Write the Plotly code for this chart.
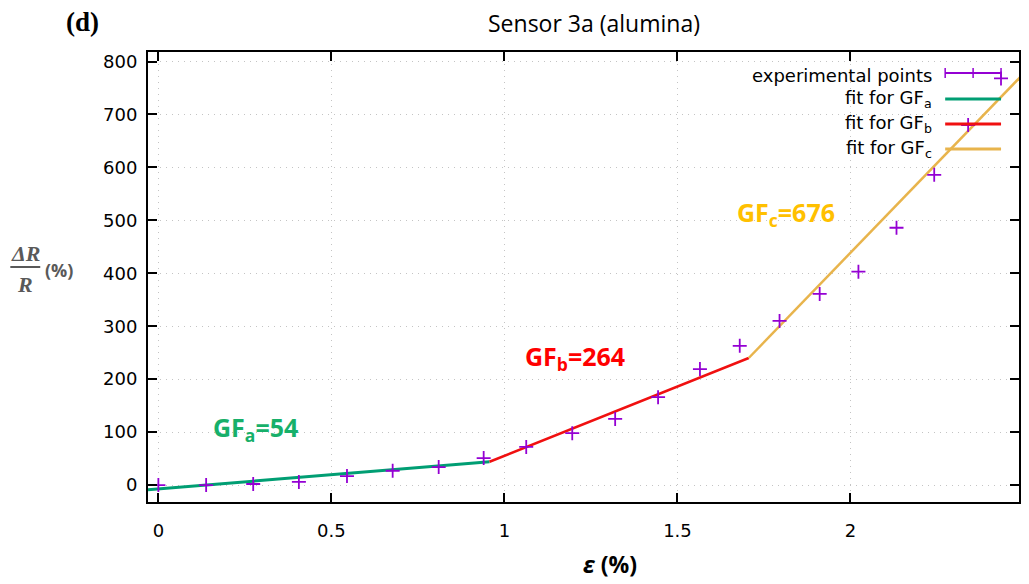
import plotly.graph_objects as go

# ---- data ----
strain = [0, 0.138, 0.274, 0.406, 0.545, 0.677, 0.81, 0.94, 1.063, 1.196, 1.32,
          1.444, 1.565, 1.68, 1.795, 1.911, 2.023, 2.133, 2.242, 2.34, 2.435]
dr_r = [0, 0, 2, 6, 17, 27, 34, 51, 72, 98, 125, 166, 219, 263, 310, 361, 403,
        486, 586, 680, 768]

fit_a_x = [-0.03, 0.957]
fit_a_y = [-9, 44]
fit_b_x = [0.957, 1.706]
fit_b_y = [44, 240]
fit_c_x = [1.706, 2.5]
fit_c_y = [240, 777]

x_ticks = [0, 0.5, 1, 1.5, 2]
x_tick_labels = ["0", "0.5", "1", "1.5", "2"]
y_ticks = [0, 100, 200, 300, 400, 500, 600, 700, 800]

legend_labels = ["experimental points", "fit for GF<sub>a</sub>",
                 "fit for GF<sub>b</sub>", "fit for GF<sub>c</sub>"]

PURPLE = "#9400d3"
GREEN = "#009e73"
RED = "#f01010"
GOLD = "#e8b44c"

fig = go.Figure()
fig.add_trace(go.Scatter(x=fit_a_x, y=fit_a_y, mode="lines",
                         line=dict(color=GREEN, width=3), showlegend=False))
fig.add_trace(go.Scatter(x=fit_b_x, y=fit_b_y, mode="lines",
                         line=dict(color=RED, width=2.5), showlegend=False))
fig.add_trace(go.Scatter(x=fit_c_x, y=fit_c_y, mode="lines",
                         line=dict(color=GOLD, width=2.5), showlegend=False))
fig.add_trace(go.Scatter(x=strain, y=dr_r, mode="markers",
                         marker=dict(symbol="cross-thin", size=10,
                                     line=dict(width=1.8, color=PURPLE)),
                         showlegend=False))

axis_common = dict(showline=True, linecolor="black", linewidth=2, mirror="ticks",
                   ticks="inside", ticklen=9, tickwidth=2, tickcolor="black",
                   showgrid=True, gridcolor="#c4c4c4", griddash="1px,5px", gridwidth=1.2,
                   zeroline=False,
                   tickfont=dict(family="DejaVu Sans", size=18, color="black"))

fig.update_xaxes(range=[-0.03, 2.487], tickvals=x_ticks, ticktext=x_tick_labels,
                 ticklabelstandoff=11, **axis_common)
fig.update_yaxes(range=[-32, 818], tickvals=y_ticks, ticklabelstandoff=5,
                 **axis_common)

W, H = 1029, 584
L, R, T, B = 148, 1021, 52, 502


def px(xp):
    return (xp - L) / (R - L)


def py(yp):
    return (B - yp) / (B - T)


ann = []
# title
ann.append(dict(text="Sensor 3a (alumina)", x=px(595), y=py(23), xref="paper", yref="paper",
                showarrow=False, font=dict(family="Open Sans", size=23, color="black"),
                xanchor="center", yanchor="middle"))
# panel label
ann.append(dict(text="<b>(d)</b>", x=px(82), y=py(22), xref="paper", yref="paper",
                showarrow=False, font=dict(family="Liberation Serif", size=27, color="black"),
                xanchor="center", yanchor="middle"))
# x label
ann.append(dict(text="<b><i>ε</i> (%)</b>", x=px(611), y=py(564), xref="paper", yref="paper",
                showarrow=False, font=dict(family="Open Sans", size=23, color="black"),
                xanchor="center", yanchor="middle"))
# y label (fraction)
GRAY = "#595959"
ann.append(dict(text="<b><i>ΔR</i></b>", x=px(25), y=py(253), xref="paper", yref="paper",
                showarrow=False, font=dict(family="Liberation Serif", size=22, color=GRAY),
                xanchor="center", yanchor="middle"))
ann.append(dict(text="<b><i>R</i></b>", x=px(25), y=py(284), xref="paper", yref="paper",
                showarrow=False, font=dict(family="Liberation Serif", size=22, color=GRAY),
                xanchor="center", yanchor="middle"))
ann.append(dict(text="<b>(%)</b>", x=px(43), y=py(270), xref="paper", yref="paper",
                showarrow=False, font=dict(family="Open Sans", size=18, color=GRAY),
                xanchor="left", yanchor="middle"))
# GF labels
ann.append(dict(text="<b>GF<sub>a</sub>=54</b>", x=px(256), y=py(428), xref="paper", yref="paper",
                showarrow=False, font=dict(family="Open Sans", size=25, color="#17b06a"),
                xanchor="center", yanchor="middle"))
ann.append(dict(text="<b>GF<sub>b</sub>=264</b>", x=px(576), y=py(357), xref="paper", yref="paper",
                showarrow=False, font=dict(family="Open Sans", size=25, color="#ff0000"),
                xanchor="center", yanchor="middle"))
ann.append(dict(text="<b>GF<sub>c</sub>=676</b>", x=px(787), y=py(213), xref="paper", yref="paper",
                showarrow=False, font=dict(family="Open Sans", size=25, color="#ffc000"),
                xanchor="center", yanchor="middle"))

# custom gnuplot-style legend
rows_y = [75, 99, 124, 149]
for lab, ry in zip(legend_labels, rows_y):
    ann.append(dict(text=lab, x=px(936), y=py(ry), xref="paper", yref="paper",
                    showarrow=False, font=dict(family="DejaVu Sans", size=18, color="black"),
                    xanchor="right", yanchor="middle"))

shapes = []
shapes.append(dict(type="line", xref="paper", yref="paper", x0=px(947), x1=px(1003),
                   y0=py(73), y1=py(73), line=dict(color=PURPLE, width=2)))
for tx in [947, 975, 1003]:
    shapes.append(dict(type="line", xref="paper", yref="paper", x0=px(tx), x1=px(tx),
                       y0=py(68), y1=py(78), line=dict(color=PURPLE, width=1.5)))
for col, ry, wd in [(GREEN, 99, 3), (RED, 124, 3), (GOLD, 149, 3)]:
    shapes.append(dict(type="line", xref="paper", yref="paper", x0=px(947), x1=px(1003),
                       y0=py(ry), y1=py(ry), line=dict(color=col, width=wd)))
# fraction bar
shapes.append(dict(type="line", xref="paper", yref="paper", x0=px(10), x1=px(40),
                   y0=py(267), y1=py(267), line=dict(color=GRAY, width=2)))

fig.update_layout(width=W, height=H, margin=dict(l=L, r=W - R, t=T, b=H - B),
                  paper_bgcolor="white", plot_bgcolor="white",
                  annotations=ann, shapes=shapes, showlegend=False)

fig.write_html("out.html", config={"displayModeBar": False},
               post_script="document.body.style.margin='0';")
